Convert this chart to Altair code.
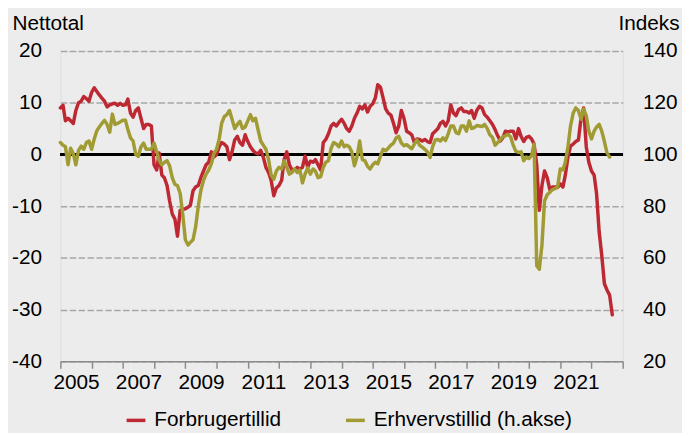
import altair as alt
import pandas as pd

# Forbrugertillid (nettotal, left axis), monthly from Jan 2005
red_vals = [
    9.0, 9.5, 6.5, 7.0, 6.5, 6.0, 8.5, 10.0, 10.3, 11.2, 10.8, 10.3,          # 2005
    12.0, 12.9, 12.2, 11.5, 10.9, 10.3, 9.2, 9.6, 9.8, 9.9, 9.5, 9.9,         # 2006
    9.5, 9.6, 10.7, 8.0, 7.2, 8.5, 9.0, 7.0, 5.0, 5.8, 5.8, 5.5,              # 2007
    -2.0, -3.0, 0.3, -4.0, -4.5, -6.0, -9.0, -11.5, -12.5, -15.8, -10.8, -10.6,  # 2008
    -10.5, -10.2, -9.8, -7.0, -6.3, -6.0, -4.5, -3.2, -2.0, -1.5, 0.5, -0.5,  # 2009
    0.0, 1.5, 2.3, 2.0, 1.5, -1.0, 0.5, 2.8, 3.5, 2.3, 1.8, 3.8,              # 2010
    2.5, 1.5, 0.8, 0.3, 0.1, 0.8, -0.5, -2.5, -3.5, -5.0, -8.0, -6.5,         # 2011
    -6.0, -5.0, -1.0, 0.5, -2.0, -3.0, -3.0, -2.5, -2.8, -2.5, -0.3, -2.5,    # 2012
    -1.3, -1.5, -1.0, -2.0, -3.0, 2.3, 2.9, 4.0, 5.5, 6.0, 5.5, 6.2,          # 2013
    6.8, 6.0, 5.0, 4.5, 5.5, 7.0, 8.0, 9.3, 8.8, 9.6, 8.2, 9.3,               # 2014
    9.8, 11.0, 13.5, 13.0, 11.0, 8.8, 8.0, 7.6, 6.0, 4.2, 5.5, 8.5,           # 2015
    7.0, 4.5, 4.2, 3.8, 2.3, 3.0, 2.9, 2.6, 2.9, 2.5, 2.3, 4.0,               # 2016
    4.5, 5.0, 6.0, 6.4, 5.5, 6.5, 9.6, 8.0, 7.5, 8.7, 9.0, 8.3,               # 2017
    8.3, 8.0, 8.5, 7.0, 8.5, 9.3, 9.0, 7.7, 7.2, 6.5, 5.8, 4.8,               # 2018
    3.6, 2.6, 3.2, 4.5, 4.3, 4.5, 4.5, 3.0, 5.0, 3.5, 2.5, 3.3,               # 2019
    3.5, 3.0, 2.0, -2.0, -10.8, -6.0, -3.2, -4.5, -6.8, -6.3, -6.3, -6.4,     # 2020
    -5.7, -6.3, -4.0, -0.5, 1.6, 2.0, 2.5, 2.8, 7.0, 9.0, 1.5, -1.5,          # 2021
    -3.2, -4.0, -7.5, -15.0, -19.5, -25.0, -26.2, -27.2, -31.0,               # 2022
]

# Erhvervstillid (indeks, right axis), monthly from Jan 2005
green_vals = [
    104.6, 103.6, 103.0, 96.0, 102.4, 100.4, 96.0, 101.6, 103.2, 102.0, 104.6, 105.2,  # 2005
    102.0, 106.0, 109.0, 110.6, 112.0, 113.2, 111.6, 108.6, 115.6, 111.6, 112.0, 112.6,  # 2006
    113.2, 113.2, 109.6, 106.4, 105.2, 100.0, 99.2, 103.0, 104.4, 102.0, 102.0, 102.0,  # 2007
    104.4, 101.0, 97.6, 96.0, 97.0, 97.6, 95.6, 91.0, 88.4, 88.0, 85.0, 77.0,         # 2008
    67.0, 65.0, 66.0, 67.0, 72.0, 80.0, 86.0, 90.0, 92.4, 94.0, 96.4, 100.4,          # 2009
    102.0, 106.0, 112.0, 114.6, 115.4, 117.0, 113.6, 110.0, 111.6, 112.8, 110.0, 110.6,  # 2010
    113.0, 115.4, 113.0, 114.0, 109.6, 105.2, 103.6, 102.0, 98.0, 92.0, 90.4, 93.6,   # 2011
    95.0, 94.4, 97.6, 95.0, 92.4, 93.0, 94.4, 93.0, 94.0, 89.0, 92.4, 94.8,           # 2012
    92.4, 94.4, 93.6, 91.0, 91.4, 95.0, 97.0, 97.6, 102.4, 104.6, 104.0, 103.0,       # 2013
    105.2, 103.0, 103.6, 103.0, 101.0, 95.6, 99.0, 105.2, 98.0, 97.6, 95.4, 94.4,     # 2014
    96.0, 97.0, 96.4, 99.4, 102.0, 101.4, 102.4, 103.6, 104.4, 106.4, 107.0, 104.4,   # 2015
    103.4, 103.8, 103.0, 102.2, 104.0, 105.6, 103.6, 102.8, 102.0, 101.0, 98.8, 103.0,  # 2016
    105.6, 105.8, 105.2, 106.4, 105.4, 108.0, 111.0, 111.0, 108.4, 108.0, 111.0, 111.0,  # 2017
    109.0, 113.0, 110.0, 110.4, 111.2, 111.0, 110.8, 111.6, 110.0, 107.6, 106.6, 103.6,  # 2018
    104.6, 105.8, 106.8, 107.2, 107.8, 106.8, 103.6, 101.2, 100.8, 101.0, 97.6, 99.0,  # 2019
    98.4, 99.6, 104.0, 57.0, 55.6, 65.0, 82.0, 84.4, 85.4, 86.4, 86.8, 87.4,          # 2020
    94.4, 94.0, 97.0, 103.0, 111.0, 116.0, 118.0, 117.0, 113.6, 117.6, 115.0, 109.0,  # 2021
    106.0, 109.0, 110.6, 111.6, 109.0, 105.0, 100.6, 99.0,                            # 2022
]

series_names = ["Forbrugertillid", "Erhvervstillid (h.akse)"]
series_colors = ["#be2832", "#a09b32"]
left_ticks = [-40, -30, -20, -10, 0, 10, 20]
right_ticks = [20, 40, 60, 80, 100, 120, 140]
year_ticks = list(range(2005, 2024))

red_df = pd.DataFrame({
    "date": pd.date_range("2005-01-01", periods=len(red_vals), freq="MS"),
    "value": red_vals,
    "series": series_names[0],
})
green_df = pd.DataFrame({
    "date": pd.date_range("2005-01-01", periods=len(green_vals), freq="MS"),
    "value": green_vals,
    "series": series_names[1],
})

FONT = "Liberation Sans"
FS = 21
W, H = 569, 314
HYPHEN_LABEL = "datum.value < 0 ? '-' + abs(datum.value) : '' + datum.value"

x_enc = alt.X(
    "date:T",
    title=None,
    scale=alt.Scale(domain=[alt.DateTime(year=year_ticks[0], month=1, date=1),
                            alt.DateTime(year=year_ticks[-1], month=1, date=1)]),
    axis=alt.Axis(
        values=[alt.DateTime(year=y, month=1, date=1) for y in year_ticks],
        labelExpr="(year(datum.value) % 2 == 1 && year(datum.value) < 2023) ? timeFormat(datum.value, '%Y') : ''",
        labelOffset=W / 18 / 2,
        labelFlush=False,
        labelOverlap=False,
        labelBound=False,
        labelFontSize=FS,
        labelFont=FONT,
        labelColor="#000000",
        labelPadding=3,
        tickSize=7,
        tickColor="#8c8c8c",
        tickWidth=1.5,
        domainColor="#8c8c8c",
        domainWidth=1.5,
        grid=False,
    ),
)

color_enc = alt.Color(
    "series:N",
    scale=alt.Scale(domain=series_names, range=series_colors),
    legend=alt.Legend(
        title=None,
        orient="none",
        legendX=65,
        legendY=362,
        direction="horizontal",
        columns=2,
        columnPadding=58,
        symbolType="stroke",
        symbolStrokeWidth=3.5,
        symbolSize=361,
        labelOffset=7,
        labelFontSize=FS,
        labelFont=FONT,
        labelColor="#000000",
        labelLimit=400,
    ),
)

left_axis = alt.Axis(
    values=left_ticks,
    labelExpr=HYPHEN_LABEL,
    title="Nettotal",
    titleAngle=0,
    titleAlign="left",
    titleBaseline="alphabetic",
    titleX=-49,
    titleY=-22,
    titleFont=FONT,
    titleFontSize=FS,
    titleFontWeight="normal",
    titleColor="#000000",
    labelFont=FONT,
    labelFontSize=FS,
    labelColor="#000000",
    labelPadding=19,
    domain=False,
    ticks=False,
    grid=True,
    gridColor="#a6a6a6",
    gridDash=[6.5, 2.5],
    gridWidth=1.5,
)

right_axis = alt.Axis(
    orient="right",
    values=right_ticks,
    title="Indeks",
    titleAngle=0,
    titleAlign="right",
    titleBaseline="alphabetic",
    titleX=57,
    titleY=-22,
    titleFont=FONT,
    titleFontSize=FS,
    titleFontWeight="normal",
    titleColor="#000000",
    labelFont=FONT,
    labelFontSize=FS,
    labelColor="#000000",
    labelPadding=20,
    labelAlign="left",
    domain=False,
    ticks=False,
    grid=False,
)

left_scale = alt.Scale(domain=[left_ticks[0], left_ticks[-1]], nice=False, zero=False)
right_scale = alt.Scale(domain=[right_ticks[0], right_ticks[-1]], nice=False, zero=False)

zero_rule = alt.Chart(red_df).mark_rule(color="#000000", strokeWidth=2).encode(
    y=alt.Y(datum=0, scale=left_scale, axis=left_axis)
)

red_line = alt.Chart(red_df).mark_line(strokeWidth=3.5, strokeJoin="round", strokeCap="round").encode(
    x=x_enc,
    y=alt.Y("value:Q", scale=left_scale, axis=left_axis),
    color=color_enc,
)

green_line = alt.Chart(green_df).mark_line(strokeWidth=3.5, strokeJoin="round", strokeCap="round").encode(
    x=x_enc,
    y=alt.Y("value:Q", scale=right_scale, axis=right_axis),
    color=color_enc,
)

left_layer = alt.layer(zero_rule, red_line)

chart = (
    alt.layer(left_layer, green_line)
    .resolve_scale(y="independent")
    .properties(
        width=W,
        height=H,
        autosize=alt.AutoSizeParams(type="none"),
        padding={"left": 53, "top": 41, "right": 60, "bottom": 70},
        background="#ececec",
    )
    .configure_view(stroke=None)
    .configure(font=FONT)
)

chart.save("out.html", embed_options={"renderer": "svg", "actions": False})
